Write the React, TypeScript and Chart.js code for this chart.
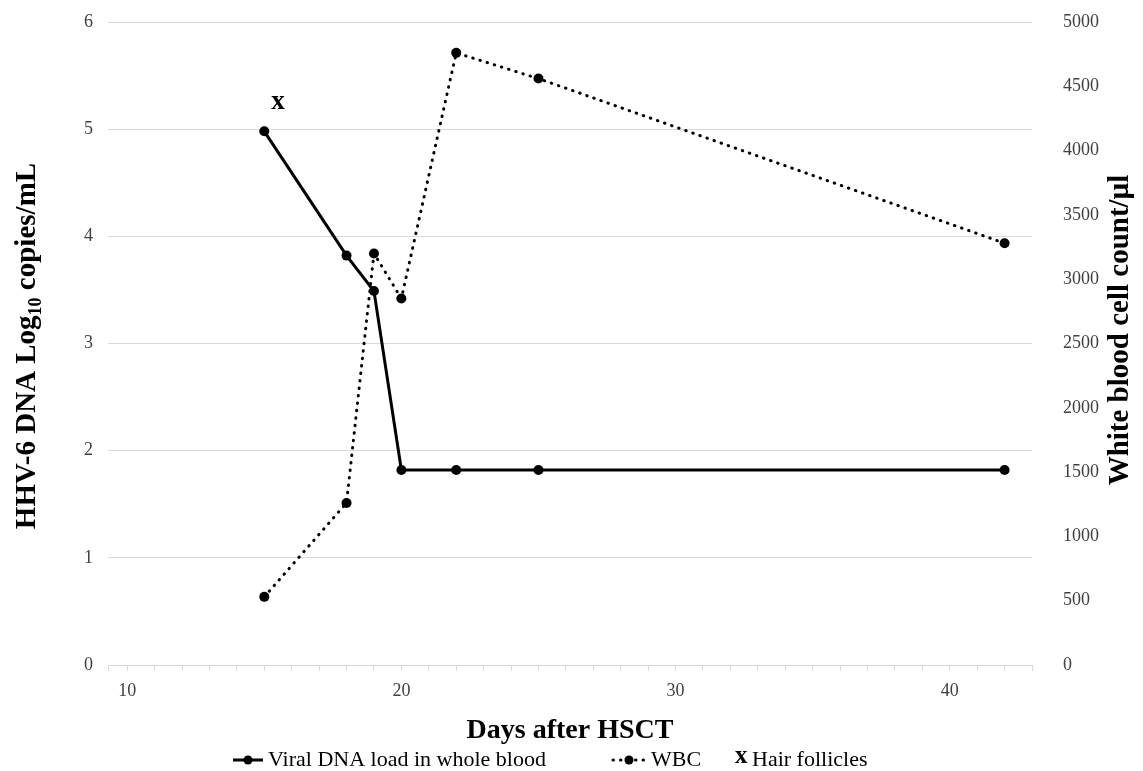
import React, { useEffect, useRef } from 'react';
import { Chart, registerables } from 'chart.js';

Chart.register(...registerables);

// ---- data ----
const days = [15, 18, 19, 20, 22, 25, 42];
const viralLoad = [4.98, 3.82, 3.49, 1.82, 1.82, 1.82, 1.82];
const wbcDays = [15, 18, 19, 20, 22, 25, 42];
const wbcCount = [530, 1260, 3200, 2850, 4760, 4560, 3280];
const hairDays = [15.5];
const hairLoad = [5.25];

// ---- axis ticks ----
const xLabeledTicks = [10, 20, 30, 40];
const xMinorFirst = 10;
const xMinorLast = 43;
const xMin = 9.3;
const xMax = 43;
const leftMin = 0;
const leftMax = 6;
const leftStep = 1;
const rightMin = 0;
const rightMax = 5000;
const rightStep = 500;

const xTitle = 'Days after HSCT';
const leftTitleParts = ['HHV-6 DNA Log', '10', ' copies/mL'];
const rightTitle = 'White blood cell count/\u00b5l';
const legendLabels = ['Viral DNA load in whole blood', 'WBC', 'Hair follicles'];

const FONT = '"Liberation Serif", "Times New Roman", serif';
const GRID = '#d9d9d9';
const TICK_COLOR = '#404040';
const WBC_DASH = [0.5, 7];

const decorPlugin = {
  id: 'decor',
  afterDatasetsDraw(chart: any) {
    const ctx = chart.ctx as CanvasRenderingContext2D;
    const meta = chart.getDatasetMeta(2);
    ctx.save();
    ctx.fillStyle = '#000';
    ctx.font = `bold 27px ${FONT}`;
    ctx.textAlign = 'center';
    ctx.textBaseline = 'middle';
    meta.data.forEach((pt: any) => ctx.fillText('x', pt.x, pt.y));
    ctx.restore();
  },
  afterDraw(chart: any) {
    const ctx = chart.ctx as CanvasRenderingContext2D;
    const area = chart.chartArea;
    ctx.save();
    ctx.fillStyle = '#000';

    // x axis title
    ctx.font = `bold 28px ${FONT}`;
    ctx.textAlign = 'center';
    ctx.textBaseline = 'middle';
    ctx.fillText(xTitle, (area.left + area.right) / 2, 731);

    // left title with subscript
    ctx.save();
    ctx.translate(26, 346);
    ctx.rotate(-Math.PI / 2);
    const mainFont = `bold 29px ${FONT}`;
    const subFont = `bold 18px ${FONT}`;
    ctx.font = mainFont;
    const w1 = ctx.measureText(leftTitleParts[0]).width;
    const w3 = ctx.measureText(leftTitleParts[2]).width;
    ctx.font = subFont;
    const w2 = ctx.measureText(leftTitleParts[1]).width;
    const x0 = -(w1 + w2 + w3) / 2;
    ctx.textAlign = 'left';
    ctx.textBaseline = 'alphabetic';
    ctx.font = mainFont;
    ctx.fillText(leftTitleParts[0], x0, 9);
    ctx.font = subFont;
    ctx.fillText(leftTitleParts[1], x0 + w1, 15);
    ctx.font = mainFont;
    ctx.fillText(leftTitleParts[2], x0 + w1 + w2, 9);
    ctx.restore();

    // right title
    ctx.save();
    ctx.translate(1121, 330);
    ctx.rotate(-Math.PI / 2);
    ctx.font = `bold 29px ${FONT}`;
    ctx.textAlign = 'center';
    ctx.textBaseline = 'middle';
    ctx.fillText(rightTitle, 0, 0);
    ctx.restore();

    // legend
    const ly = 760;
    ctx.strokeStyle = '#000';
    ctx.lineWidth = 3;
    ctx.beginPath();
    ctx.moveTo(233, ly);
    ctx.lineTo(263, ly);
    ctx.stroke();
    ctx.beginPath();
    ctx.arc(248, ly, 4.5, 0, Math.PI * 2);
    ctx.fill();

    ctx.save();
    ctx.setLineDash(WBC_DASH);
    ctx.lineCap = 'round';
    ctx.beginPath();
    ctx.moveTo(613, ly);
    ctx.lineTo(645, ly);
    ctx.stroke();
    ctx.restore();
    ctx.beginPath();
    ctx.arc(629, ly, 4.5, 0, Math.PI * 2);
    ctx.fill();

    ctx.font = `22px ${FONT}`;
    ctx.textAlign = 'left';
    ctx.textBaseline = 'middle';
    ctx.fillText(legendLabels[0], 268, ly);
    ctx.fillText(legendLabels[1], 651, ly);
    ctx.font = `bold 25px ${FONT}`;
    ctx.fillText('x', 735, ly - 3);
    ctx.font = `22px ${FONT}`;
    ctx.fillText(legendLabels[2], 752, ly);
    ctx.restore();
  },
};

export default function App() {
  const ref = useRef<HTMLCanvasElement>(null);

  useEffect(() => {
    document.body.style.margin = '0';
    const canvas = ref.current;
    if (!canvas) return;
    const chart = new Chart(canvas, {
      type: 'line',
      data: {
        datasets: [
          {
            label: legendLabels[0],
            data: days.map((d, i) => ({ x: d, y: viralLoad[i] })),
            yAxisID: 'y',
            borderColor: '#000',
            backgroundColor: '#000',
            borderWidth: 3,
            pointRadius: 5,
            pointHoverRadius: 5,
            pointBackgroundColor: '#000',
            pointBorderWidth: 0,
            tension: 0,
          },
          {
            label: legendLabels[1],
            data: wbcDays.map((d, i) => ({ x: d, y: wbcCount[i] })),
            yAxisID: 'y1',
            borderColor: '#000',
            backgroundColor: '#000',
            borderWidth: 3,
            borderDash: WBC_DASH,
            borderCapStyle: 'round',
            pointRadius: 5,
            pointHoverRadius: 5,
            pointBackgroundColor: '#000',
            pointBorderWidth: 0,
            tension: 0,
          },
          {
            label: legendLabels[2],
            data: hairDays.map((d, i) => ({ x: d, y: hairLoad[i] })),
            yAxisID: 'y',
            showLine: false,
            pointRadius: 0,
            pointHoverRadius: 0,
          },
        ],
      } as any,
      options: {
        animation: false,
        responsive: true,
        maintainAspectRatio: false,
        layout: { padding: { top: 22, left: 0, right: 0, bottom: 0 } },
        plugins: {
          legend: { display: false },
          tooltip: { enabled: false },
        },
        scales: {
          x: {
            type: 'linear',
            min: xMin,
            max: xMax,
            afterBuildTicks: (scale: any) => {
              const t: { value: number }[] = [{ value: xMin }];
              for (let v = xMinorFirst; v <= xMinorLast; v++) t.push({ value: v });
              scale.ticks = t;
            },
            afterFit: (scale: any) => {
              scale.height = 106;
              scale.paddingLeft = 0;
              scale.paddingRight = 0;
            },
            grid: {
              drawOnChartArea: false,
              drawTicks: true,
              tickLength: 6,
              color: GRID,
              tickColor: GRID,
            },
            border: { display: true, color: GRID },
            ticks: {
              autoSkip: false,
              maxRotation: 0,
              minRotation: 0,
              padding: 9,
              color: TICK_COLOR,
              font: { family: FONT, size: 18 },
              callback: (value: any) => (xLabeledTicks.includes(Number(value)) ? String(value) : ''),
            },
          },
          y: {
            position: 'left',
            min: leftMin,
            max: leftMax,
            afterFit: (scale: any) => {
              scale.width = 108;
              scale.paddingTop = 0;
              scale.paddingBottom = 0;
            },
            grid: { color: GRID, drawTicks: false },
            border: { display: false },
            ticks: {
              stepSize: leftStep,
              padding: 15,
              color: TICK_COLOR,
              font: { family: FONT, size: 18 },
            },
          },
          y1: {
            position: 'right',
            min: rightMin,
            max: rightMax,
            afterFit: (scale: any) => {
              scale.width = 111;
              scale.paddingTop = 0;
              scale.paddingBottom = 0;
            },
            grid: { drawOnChartArea: false, drawTicks: false },
            border: { display: false },
            ticks: {
              stepSize: rightStep,
              padding: 31,
              color: TICK_COLOR,
              font: { family: FONT, size: 18 },
              callback: (value: any) => String(value),
            },
          },
        },
      } as any,
      plugins: [decorPlugin],
    });
    return () => chart.destroy();
  }, []);

  return (
    <div style={{ width: 1143, height: 771, position: 'relative', background: '#fff' }}>
      <canvas ref={ref} />
    </div>
  );
}
